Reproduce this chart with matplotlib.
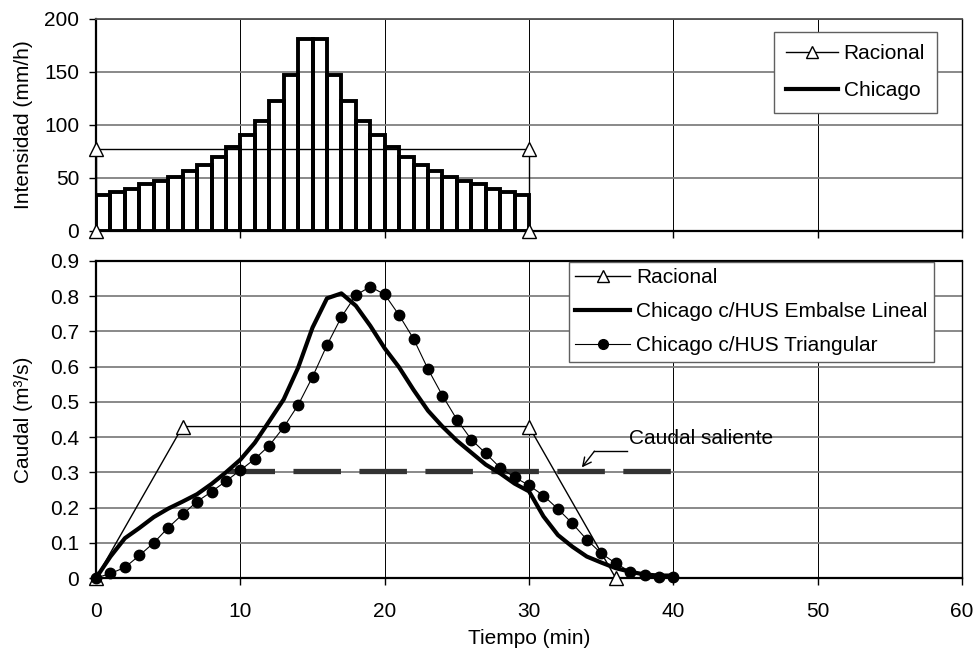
import matplotlib.pyplot as plt
from matplotlib.lines import Line2D
from matplotlib.ticker import FormatStrFormatter
import numpy as np

plt.rcParams['font.family'] = ['Liberation Sans', 'DejaVu Sans']
plt.rcParams['font.size'] = 15

# Hietograma de Chicago (mm/h), bloques de 1 min
t_bloques = np.arange(0, 30)
i_chicago = [34, 37, 40, 44, 47, 51, 57, 62, 70, 79, 91, 104, 123, 147, 181,
             181, 147, 123, 104, 91, 79, 70, 62, 57, 51, 47, 44, 40, 37, 34]

# Lluvia del metodo racional
t_lluvia_racional = [0, 0, 30, 30]
i_racional = [0, 77.5, 77.5, 0]

# Hidrogramas (m3/s)
t_racional = [0, 6, 30, 36]
q_racional = [0, 0.43, 0.43, 0]

t_hus = np.arange(0, 41)
q_embalse = [0.0, 0.061, 0.113, 0.142, 0.173, 0.197, 0.217, 0.238, 0.267, 0.300,
             0.336, 0.384, 0.445, 0.507, 0.597, 0.711, 0.794, 0.808, 0.773, 0.716,
             0.652, 0.598, 0.534, 0.475, 0.430, 0.390, 0.356, 0.322, 0.297, 0.268,
             0.246, 0.175, 0.122, 0.089, 0.061, 0.044, 0.028, 0.018, 0.010, 0.007,
             0.007]
q_triangular = [0.0, 0.013, 0.030, 0.064, 0.100, 0.143, 0.181, 0.217, 0.245, 0.275,
                0.306, 0.338, 0.376, 0.428, 0.491, 0.571, 0.661, 0.741, 0.803, 0.827,
                0.805, 0.746, 0.679, 0.593, 0.518, 0.450, 0.393, 0.354, 0.313, 0.286,
                0.263, 0.234, 0.196, 0.155, 0.109, 0.070, 0.042, 0.018, 0.008, 0.004,
                0.004]

# Caudal saliente
t_saliente = [9.1, 40]
q_saliente = [0.305, 0.305]

fig = plt.figure(figsize=(9.76, 6.68), dpi=100)
ax1 = fig.add_axes([0.0984, 0.6542, 0.8873, 0.3174])
ax2 = fig.add_axes([0.0984, 0.1347, 0.8873, 0.4746])

for ax in (ax1, ax2):
    ax.set_xlim(0, 60)
    ax.set_xticks(np.arange(0, 61, 10))
    ax.yaxis.grid(True, color='#808080', lw=1.3)
    ax.xaxis.grid(True, color='black', lw=0.7)
    ax.set_axisbelow(True)
    ax.tick_params(direction='out', length=5, width=1, colors='black')
    ax.tick_params(axis='y', pad=7)
    ax.spines['left'].set_linewidth(1.6)
    ax.spines['bottom'].set_linewidth(1.6)
    ax.spines['right'].set_linewidth(1.0)
    ax.spines['top'].set_linewidth(1.3)

# --- intensidad ---
ax1.bar(t_bloques, i_chicago, width=1, align='edge', fill=False,
        edgecolor='black', linewidth=2.8, zorder=2)
ax1.plot(t_lluvia_racional, i_racional, color='black', lw=1, marker='^',
         ms=10.5, mfc='white', mec='black', mew=1, clip_on=False, zorder=3)
ax1.set_ylim(0, 200)
ax1.set_yticks(np.arange(0, 201, 50))
ax1.tick_params(axis='x', labelbottom=False)
ax1.spines['top'].set_color('#505050')
ax1.set_ylabel('Intensidad (mm/h)')
ax1.yaxis.set_label_coords(-0.073, 0.5)

hl1 = [Line2D([], [], color='black', lw=1, marker='^', ms=8, mfc='white', mec='black'),
       Line2D([], [], color='black', lw=3)]
leg1 = ax1.legend(hl1, ['Racional', 'Chicago'], loc='upper right',
                  bbox_to_anchor=(937 / 976, 1 - 32 / 668), bbox_transform=fig.transFigure,
                  borderaxespad=0, fancybox=False, framealpha=1, edgecolor='#606060',
                  handlelength=2.5, handletextpad=0.25, labelspacing=0.88, borderpad=0.58)
leg1.get_frame().set_linewidth(1)

# --- caudales ---
ax2.plot(t_saliente, q_saliente, color='#333333', lw=3.8, dashes=(9, 3.5), zorder=2)
ax2.plot(t_racional, q_racional, color='black', lw=1, marker='^', ms=10.5,
         mfc='white', mec='black', mew=1, clip_on=False, zorder=3, label='Racional')
ax2.plot(t_hus, q_embalse, color='black', lw=3, zorder=4,
         label='Chicago c/HUS Embalse Lineal')
ax2.plot(t_hus, q_triangular, color='black', lw=0.8, marker='o', ms=7.5,
         clip_on=False, zorder=5, label='Chicago c/HUS Triangular')

# leyenda del caudal saliente con flecha
ax2.plot([36.78, 34.53], [0.36, 0.36], color='black', lw=1)
ax2.annotate('', xy=(33.66, 0.314), xytext=(34.53, 0.36),
             arrowprops=dict(arrowstyle='->', lw=1, color='black',
                             shrinkA=0, shrinkB=0))
ax2.text(36.9, 0.395, 'Caudal saliente', va='center', ha='left')

ax2.set_ylim(0, 0.9)
ax2.set_yticks(np.arange(0, 0.91, 0.1))
ax2.yaxis.set_major_formatter(FormatStrFormatter('%g'))
ax2.tick_params(axis='x', pad=12)
ax2.spines['top'].set_linewidth(1.6)
ax2.set_ylabel('Caudal (m³/s)')
ax2.yaxis.set_label_coords(-0.073, 0.5)
ax2.set_xlabel('Tiempo (min)', va='top')
ax2.xaxis.set_label_coords(0.5, -0.16)

leg2 = ax2.legend(loc='upper right', bbox_to_anchor=(934 / 976, 1 - 262 / 668),
                  bbox_transform=fig.transFigure, borderaxespad=0, fancybox=False,
                  framealpha=1, edgecolor='#606060', handlelength=2.65,
                  handletextpad=0.3, labelspacing=0.72, borderpad=0.3)
leg2.get_frame().set_linewidth(1)
for h in leg2.legend_handles:
    if h.get_marker() == 'o':
        h.set_markersize(7)
    if h.get_marker() == '^':
        h.set_markersize(8)

fig.savefig('out.png', dpi=100)
